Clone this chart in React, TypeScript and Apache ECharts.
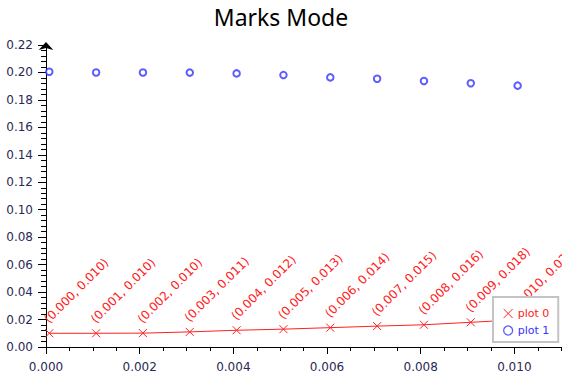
import React, { useEffect, useRef } from 'react';
import * as echarts from 'echarts';

const xValues = [0.00007, 0.00107, 0.00207, 0.00307, 0.00407, 0.00507, 0.00607, 0.00707, 0.00807, 0.00907, 0.01007];
const plot0Values = [0.01, 0.01, 0.0101, 0.011, 0.0122, 0.013, 0.0141, 0.0152, 0.0162, 0.018, 0.0198];
const plot1Values = [0.2005, 0.2, 0.2, 0.1999, 0.1993, 0.1981, 0.1964, 0.1954, 0.1938, 0.1921, 0.1904];
const seriesNames = ['plot 0', 'plot 1'];
const titleText = 'Marks Mode';

const RED = '#ff2020';
const BLUE = '#3434ff';
const FONT = 'DejaVu Sans';
const CROSS = 'path://M0,0L10,10M10,0L0,10';

export default function App() {
  const ref = useRef<HTMLDivElement>(null);
  useEffect(() => {
    const chart = echarts.init(ref.current!, undefined, { renderer: 'svg' });
    const plot0Data = xValues.map((x, i) => [x, plot0Values[i]]);
    chart.setOption({
      animation: false,
      title: {
        text: titleText,
        left: 'center',
        top: 0,
        textStyle: { fontFamily: 'Noto Sans', fontSize: 23, fontWeight: 'normal', color: '#000' },
      },
      grid: { left: 46, right: -46, top: 45, bottom: 29, outerBoundsMode: 'none', containLabel: false },
      xAxis: {
        type: 'value',
        min: 0,
        max: 0.012,
        interval: 0.002,
        axisLine: { onZero: false, lineStyle: { color: '#000', width: 1 } },
        axisTick: { show: true, length: 7, lineStyle: { color: '#000' } },
        minorTick: { show: true, splitNumber: 4, length: 4, lineStyle: { color: '#000' } },
        splitLine: { show: false },
        minorSplitLine: { show: false },
        axisLabel: {
          formatter: (v: number) => v.toFixed(3),
          margin: 14,
          color: '#2a2a55',
          fontFamily: FONT,
          fontSize: 12,
          showMaxLabel: false,
        },
      },
      yAxis: {
        type: 'value',
        min: 0,
        max: 0.22,
        interval: 0.02,
        axisLine: {
          show: true,
          onZero: false,
          symbol: ['none', 'arrow'],
          symbolSize: [11, 8],
          symbolOffset: [0, 3],
          lineStyle: { color: '#000', width: 1 },
        },
        axisTick: { show: true, length: 8, lineStyle: { color: '#000' } },
        minorTick: { show: true, splitNumber: 5, length: 5, lineStyle: { color: '#000' } },
        splitLine: { show: false },
        minorSplitLine: { show: false },
        axisLabel: {
          formatter: (v: number) => v.toFixed(2),
          margin: 13,
          color: '#2a2a55',
          fontFamily: FONT,
          fontSize: 12,
        },
      },
      legend: {
        orient: 'vertical',
        left: 493,
        top: 297,
        padding: [11, 9, 6, 10],
        itemGap: 6,
        itemWidth: 9,
        itemHeight: 9,
        backgroundColor: '#fff',
        borderColor: '#c4c4c4',
        borderWidth: 2,
        textStyle: { fontFamily: FONT, fontSize: 11 },
        data: [
          {
            name: seriesNames[0],
            icon: CROSS,
            itemStyle: { color: RED, borderColor: RED, borderWidth: 1 },
            textStyle: { color: RED },
          },
          {
            name: seriesNames[1],
            icon: 'circle',
            itemStyle: { color: '#fff', borderColor: BLUE, borderWidth: 1.3 },
            textStyle: { color: BLUE },
          },
        ],
      },
      series: [
        {
          name: seriesNames[0],
          type: 'line',
          data: plot0Data,
          symbol: CROSS,
          symbolSize: 8,
          showAllSymbol: true,
          lineStyle: { color: RED, width: 1 },
          itemStyle: { color: RED, borderColor: RED, borderWidth: 1 },
          z: 3,
        },
        {
          name: 'plot 0 labels',
          type: 'custom',
          data: plot0Data,
          clip: false,
          silent: true,
          z: 3,
          renderItem: (params: any, api: any) => {
            const x = api.value(0);
            const y = api.value(1);
            const pt = api.coord([x, y]);
            return {
              type: 'text',
              x: pt[0] + 1,
              y: pt[1] - 8,
              rotation: Math.PI / 4,
              style: {
                text: `(${x.toFixed(3)}, ${y.toFixed(3)})`,
                fill: RED,
                fontFamily: FONT,
                fontSize: 12,
                align: 'left',
                verticalAlign: 'bottom',
              },
            };
          },
        },
        {
          name: seriesNames[1],
          type: 'scatter',
          data: xValues.map((x, i) => [x, plot1Values[i]]),
          symbol: 'emptyCircle',
          symbolSize: 6.5,
          itemStyle: { color: BLUE, borderColor: BLUE, borderWidth: 1.3 },
          z: 3,
        },
      ],
    });
    return () => chart.dispose();
  }, []);
  return (
    <div
      ref={ref}
      style={{ position: 'absolute', left: 0, top: 0, width: 562, height: 376, background: '#fff' }}
    />
  );
}
